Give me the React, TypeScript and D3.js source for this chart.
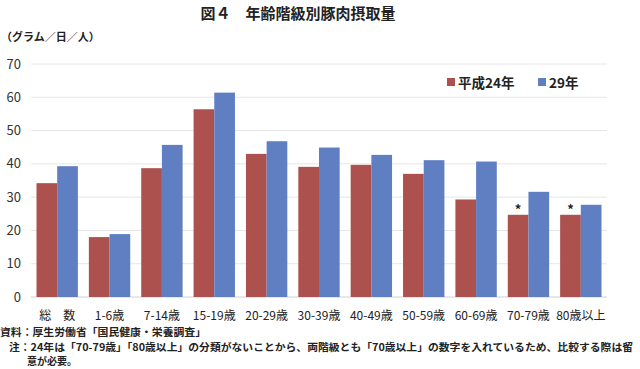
import React, { useEffect, useRef } from 'react';
import * as d3 from 'd3';

// 年齢階級別豚肉摂取量（グラム／日／人）
const categories = ['総　数', '1-6歳', '7-14歳', '15-19歳', '20-29歳', '30-39歳', '40-49歳', '50-59歳', '60-69歳', '70-79歳', '80歳以上'];
const seriesNames = ['平成24年', '29年'];
const h24 = [34.2, 18.0, 38.7, 56.4, 43.0, 39.1, 39.7, 37.0, 29.3, 24.7, 24.7];
const h29 = [39.3, 18.9, 45.7, 61.4, 46.8, 44.9, 42.7, 41.1, 40.7, 31.6, 27.7];
const starred = ['70-79歳', '80歳以上'];
const yTicks = [0, 10, 20, 30, 40, 50, 60, 70];

const colors = ['#ad514f', '#5f7fc2'];
const font = "'Noto Sans CJK JP', 'Noto Sans', sans-serif";

const App = () => {
  const ref = useRef<SVGSVGElement>(null);

  useEffect(() => {
    const w = 640;
    const h = 369;
    const svg = d3.select(ref.current);
    svg.selectAll('*').remove();

    const left = 31, right = 607, top = 64, bottom = 297;

    var x = d3.scaleBand<string>()
      .domain(categories)
      .range([left, right])
      .paddingInner(0.21)
      .paddingOuter(0.105);
    var xs = d3.scaleBand<string>()
      .domain(seriesNames)
      .range([0, x.bandwidth()]);
    var y = d3.scaleLinear().domain([0, 70]).range([bottom, top]);

    // title
    svg.append('text')
      .attr('x', 298).attr('y', 19)
      .attr('text-anchor', 'middle')
      .attr('font-size', 15).attr('font-weight', 'bold')
      .attr('fill', '#222')
      .text('図４　年齢階級別豚肉摂取量');

    svg.append('text')
      .attr('x', 1).attr('y', 41)
      .attr('font-size', 11).attr('font-weight', 'bold')
      .attr('fill', '#222')
      .text('（グラム／日／人）');

    // gridlines
    svg.append('g').selectAll('line')
      .data(yTicks)
      .enter().append('line')
      .attr('x1', left).attr('x2', right)
      .attr('y1', d => y(d)).attr('y2', d => y(d))
      .attr('stroke', d => d === 0 ? '#d0d0d0' : '#e6e6e6')
      .attr('stroke-width', 1);

    svg.append('g').selectAll('text')
      .data(yTicks)
      .enter().append('text')
      .attr('x', 21).attr('y', d => y(d) + 4.5)
      .attr('text-anchor', 'end')
      .attr('font-size', 13)
      .attr('fill', '#333')
      .text(d => d);

    // bars
    const data = [h24, h29];
    data.forEach((vals, s) => {
      svg.append('g').selectAll('rect')
        .data(vals)
        .enter().append('rect')
        .attr('x', (d, i) => (x(categories[i]) as number) + (xs(seriesNames[s]) as number))
        .attr('y', d => y(d))
        .attr('width', xs.bandwidth())
        .attr('height', d => bottom - y(d))
        .attr('fill', colors[s]);
    });

    // asterisks
    svg.append('g').selectAll('text')
      .data(starred)
      .enter().append('text')
      .attr('x', d => (x(d) as number) + xs.bandwidth() / 2)
      .attr('y', d => y(h24[categories.indexOf(d)]) - 1)
      .attr('text-anchor', 'middle')
      .attr('font-size', 13).attr('font-weight', 'bold')
      .attr('fill', '#222')
      .text('*');

    // category labels
    svg.append('g').selectAll('text')
      .data(categories)
      .enter().append('text')
      .attr('x', d => (x(d) as number) + x.bandwidth() / 2)
      .attr('y', 320)
      .attr('text-anchor', 'middle')
      .attr('font-size', 12)
      .attr('fill', '#222')
      .text(d => d);

    // legend
    const lg = svg.append('g');
    const legendX = [447, 538];
    seriesNames.forEach((name, i) => {
      lg.append('rect')
        .attr('x', legendX[i]).attr('y', 78)
        .attr('width', 8).attr('height', 8)
        .attr('fill', colors[i]);
      lg.append('text')
        .attr('x', legendX[i] + 11).attr('y', 87.5)
        .attr('font-size', 13.5).attr('font-weight', 'bold')
        .attr('fill', '#222')
        .text(name);
    });

    // notes
    const notes = svg.append('g')
      .attr('font-size', 10).attr('font-weight', 'bold').attr('fill', '#222');
    notes.append('text').attr('x', 0).attr('y', 336)
      .attr('textLength', 206).attr('lengthAdjust', 'spacingAndGlyphs')
      .text('資料：厚生労働省「国民健康・栄養調査」');
    notes.append('text').attr('x', 9).attr('y', 350.5)
      .attr('textLength', 624).attr('lengthAdjust', 'spacingAndGlyphs')
      .text('注：24年は「70-79歳」「80歳以上」の分類がないことから、両階級とも「70歳以上」の数字を入れているため、比較する際は留');
    notes.append('text').attr('x', 27).attr('y', 365)
      .text('意が必要。');

    svg.attr('width', w).attr('height', h);
  }, []);

  return (
    <svg ref={ref} width={640} height={369}
      style={{ position: 'absolute', left: 0, top: 0, background: '#fff', fontFamily: font }} />
  );
};

export default App;
